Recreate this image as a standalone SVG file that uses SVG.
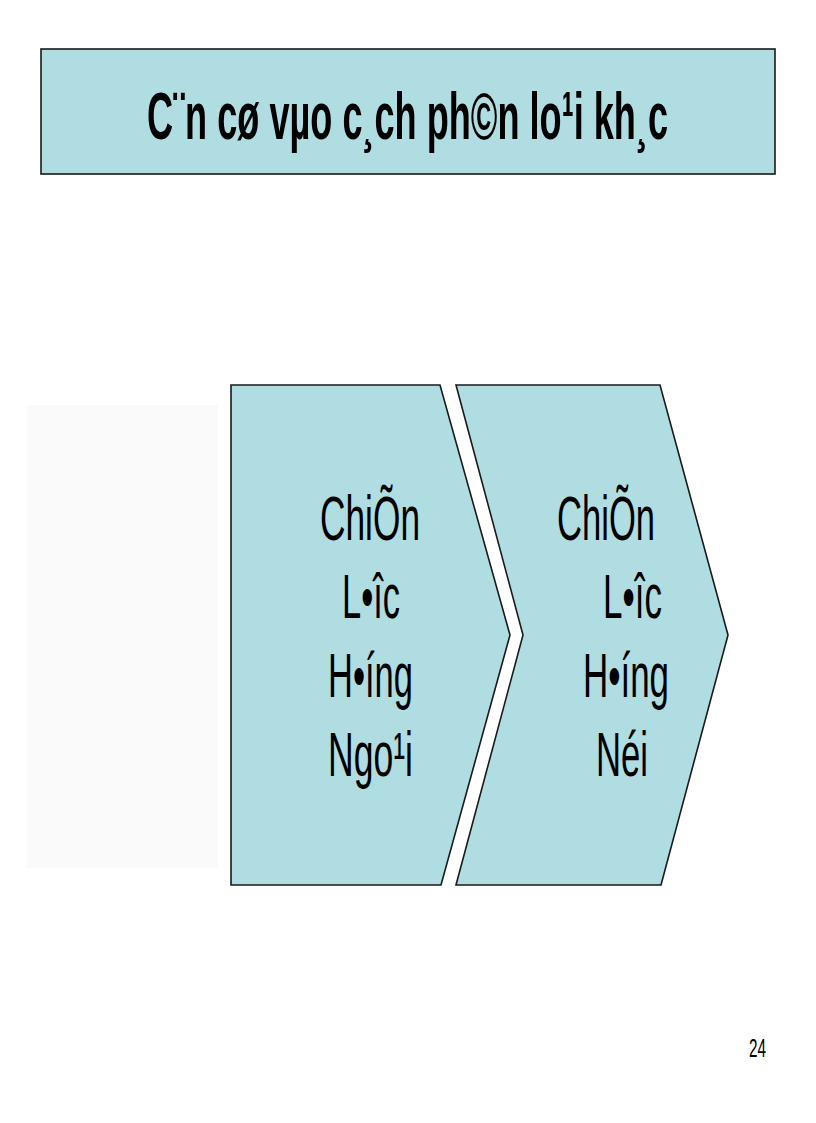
<svg xmlns="http://www.w3.org/2000/svg" width="816" height="1123" viewBox="0 0 816 1123">
<style>
.box{fill:#b0dde2;stroke:#1a1a1a;stroke-width:1.6}
.t{font-family:"Liberation Sans",Arial,sans-serif;fill:#000}
.title{font-size:67px;font-weight:bold}
.lbl{font-size:63px}
</style>
<rect width="816" height="1123" fill="#ffffff"/>
<rect x="27" y="405" width="191" height="463" fill="#fbfafb"/>
<g id="title">
<rect class="box" x="41" y="49" width="734" height="125"/>
<text class="t title" x="147" y="139" textLength="521" lengthAdjust="spacingAndGlyphs">C¨n cø vµo c¸ch ph©n lo¹i kh¸c</text>
</g>
<g id="chevron1">
<polygon class="box" points="231,385 440,385 510,635 441,885 231,885"/>
<text class="t lbl" x="320" y="540" textLength="100" lengthAdjust="spacingAndGlyphs">ChiÕn</text>
<text class="t lbl" x="342" y="618" textLength="58" lengthAdjust="spacingAndGlyphs">L•îc</text>
<text class="t lbl" x="328" y="697" textLength="85" lengthAdjust="spacingAndGlyphs">H•íng</text>
<text class="t lbl" x="328" y="776" textLength="85" lengthAdjust="spacingAndGlyphs">Ngo¹i</text>
</g>
<g id="chevron2">
<polygon class="box" points="456,385 660,385 728,635 661,885 456,885 523,635"/>
<text class="t lbl" x="557" y="540" textLength="98" lengthAdjust="spacingAndGlyphs">ChiÕn</text>
<text class="t lbl" x="603" y="618" textLength="59" lengthAdjust="spacingAndGlyphs">L•îc</text>
<text class="t lbl" x="583" y="697" textLength="86" lengthAdjust="spacingAndGlyphs">H•íng</text>
<text class="t lbl" x="596" y="776" textLength="52" lengthAdjust="spacingAndGlyphs">Néi</text>
</g>
<g id="connectors"></g>
<text class="t" x="749" y="1057" font-size="26" textLength="17" lengthAdjust="spacingAndGlyphs">24</text>
</svg>
